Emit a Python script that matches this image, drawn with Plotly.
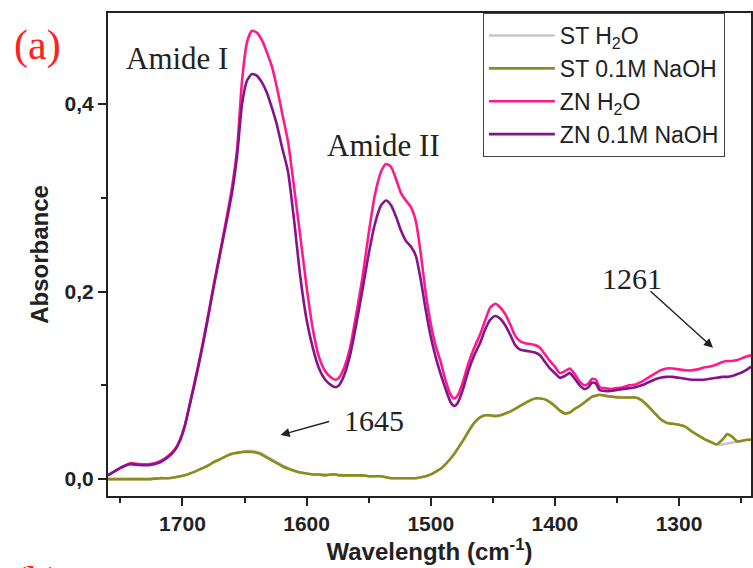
import plotly.graph_objects as go

# ---------------- data ----------------
wavenumber = [1760, 1750, 1742, 1735, 1726, 1718, 1712, 1706, 1702, 1698, 1694, 1690, 1685, 1680, 1675,
              1670, 1664, 1660, 1656, 1652, 1648, 1644, 1640, 1636, 1632, 1628, 1624, 1620, 1615, 1610,
              1605, 1600, 1595, 1590, 1585, 1580, 1577, 1574, 1570, 1565, 1560, 1555, 1550, 1545, 1540,
              1536, 1532, 1528, 1524, 1520, 1516, 1512, 1508, 1504, 1500, 1496, 1492, 1488, 1484, 1481,
              1478, 1474, 1470, 1465, 1460, 1456, 1452, 1448, 1444, 1440, 1436, 1432, 1428, 1424, 1420,
              1416, 1412, 1408, 1404, 1400, 1396, 1392, 1388, 1384, 1380, 1376, 1373, 1370, 1367, 1364,
              1360, 1355, 1350, 1345, 1340, 1335, 1330, 1325, 1320, 1315, 1310, 1305, 1300, 1295, 1290,
              1285, 1280, 1275, 1270, 1265, 1261, 1257, 1253, 1249, 1245, 1242]

st_h2o = [0.000, 0.000, 0.000, 0.000, 0.000, 0.001, 0.001, 0.002, 0.003, 0.004, 0.006, 0.008, 0.011, 0.014, 0.018,
          0.021, 0.025, 0.027, 0.028, 0.029, 0.030, 0.030, 0.029, 0.027, 0.024, 0.021, 0.018, 0.015, 0.012, 0.009,
          0.007, 0.006, 0.005, 0.005, 0.005, 0.005, 0.005, 0.005, 0.004, 0.004, 0.004, 0.004, 0.003, 0.003, 0.003,
          0.002, 0.001, 0.001, 0.001, 0.001, 0.001, 0.001, 0.002, 0.003, 0.005, 0.008, 0.011, 0.016, 0.022, 0.027,
          0.033, 0.041, 0.050, 0.060, 0.066, 0.068, 0.068, 0.068, 0.068, 0.070, 0.072, 0.075, 0.078, 0.081, 0.084,
          0.086, 0.086, 0.085, 0.082, 0.078, 0.073, 0.070, 0.071, 0.075, 0.078, 0.082, 0.085, 0.088, 0.089, 0.090,
          0.089, 0.088, 0.088, 0.087, 0.087, 0.087, 0.084, 0.078, 0.071, 0.064, 0.060, 0.059, 0.058, 0.056, 0.051,
          0.047, 0.043, 0.040, 0.037, 0.037, 0.038, 0.039, 0.040, 0.041, 0.042, 0.042]

st_naoh = [0.000, 0.000, 0.000, 0.000, 0.000, 0.001, 0.001, 0.002, 0.003, 0.004, 0.006, 0.008, 0.011, 0.014, 0.018,
           0.021, 0.025, 0.027, 0.028, 0.029, 0.029, 0.029, 0.028, 0.026, 0.023, 0.020, 0.017, 0.014, 0.011, 0.009,
           0.007, 0.006, 0.005, 0.005, 0.004, 0.005, 0.005, 0.004, 0.004, 0.004, 0.004, 0.004, 0.003, 0.003, 0.003,
           0.002, 0.001, 0.001, 0.001, 0.001, 0.001, 0.001, 0.002, 0.003, 0.005, 0.008, 0.011, 0.016, 0.022, 0.027,
           0.033, 0.041, 0.050, 0.060, 0.066, 0.068, 0.068, 0.067, 0.068, 0.070, 0.072, 0.075, 0.078, 0.081, 0.084,
           0.086, 0.086, 0.085, 0.082, 0.078, 0.073, 0.070, 0.071, 0.075, 0.078, 0.082, 0.085, 0.088, 0.089, 0.090,
           0.089, 0.088, 0.087, 0.087, 0.087, 0.087, 0.084, 0.078, 0.071, 0.064, 0.060, 0.059, 0.058, 0.056, 0.051,
           0.047, 0.043, 0.040, 0.037, 0.042, 0.048, 0.045, 0.040, 0.041, 0.042, 0.042]

zn_h2o = [0.004, 0.012, 0.017, 0.016, 0.016, 0.019, 0.024, 0.032, 0.042, 0.058, 0.081, 0.105, 0.136, 0.170, 0.206,
          0.240, 0.282, 0.312, 0.352, 0.425, 0.466, 0.478, 0.476, 0.468, 0.455, 0.440, 0.418, 0.392, 0.360, 0.310,
          0.258, 0.205, 0.160, 0.130, 0.115, 0.108, 0.106, 0.108, 0.118, 0.140, 0.176, 0.215, 0.262, 0.303, 0.328,
          0.336, 0.333, 0.320, 0.305, 0.297, 0.290, 0.275, 0.240, 0.198, 0.166, 0.142, 0.125, 0.105, 0.090, 0.086,
          0.090, 0.104, 0.122, 0.140, 0.155, 0.170, 0.183, 0.187, 0.183, 0.176, 0.165, 0.153, 0.147, 0.145, 0.144,
          0.143, 0.140, 0.133, 0.126, 0.120, 0.113, 0.115, 0.118, 0.112, 0.104, 0.100, 0.102, 0.107, 0.106, 0.098,
          0.097, 0.096, 0.097, 0.098, 0.100, 0.101, 0.104, 0.108, 0.112, 0.116, 0.118, 0.118, 0.117, 0.116, 0.116,
          0.117, 0.119, 0.120, 0.122, 0.125, 0.126, 0.126, 0.127, 0.129, 0.131, 0.132]

zn_naoh = [0.004, 0.012, 0.016, 0.015, 0.015, 0.018, 0.023, 0.031, 0.041, 0.057, 0.080, 0.103, 0.134, 0.168, 0.204,
           0.238, 0.278, 0.306, 0.345, 0.400, 0.425, 0.432, 0.430, 0.423, 0.412, 0.396, 0.378, 0.355, 0.328, 0.275,
           0.215, 0.170, 0.140, 0.118, 0.106, 0.100, 0.098, 0.100, 0.110, 0.132, 0.165, 0.202, 0.240, 0.272, 0.292,
           0.297, 0.292, 0.280, 0.265, 0.254, 0.248, 0.238, 0.212, 0.180, 0.152, 0.130, 0.112, 0.096, 0.082, 0.078,
           0.082, 0.096, 0.114, 0.132, 0.146, 0.160, 0.170, 0.174, 0.171, 0.164, 0.154, 0.143, 0.138, 0.137, 0.136,
           0.135, 0.132, 0.125, 0.118, 0.113, 0.108, 0.110, 0.113, 0.107, 0.100, 0.096, 0.098, 0.103, 0.102, 0.095,
           0.094, 0.094, 0.095, 0.096, 0.097, 0.098, 0.100, 0.103, 0.106, 0.108, 0.109, 0.109, 0.108, 0.107, 0.106,
           0.106, 0.106, 0.107, 0.108, 0.109, 0.109, 0.110, 0.112, 0.114, 0.117, 0.120]

series_names = ["ST H<sub>2</sub>O", "ST 0.1M NaOH", "ZN H<sub>2</sub>O", "ZN 0.1M NaOH"]
series_values = [st_h2o, st_naoh, zn_h2o, zn_naoh]
series_colors = ["#c6c6c6", "#8c8c1c", "#ff1a8c", "#84148c"]

x_tickvals = [1700, 1600, 1500, 1400, 1300]
x_ticktext = ["1700", "1600", "1500", "1400", "1300"]
y_tickvals = [0.0, 0.2, 0.4]
y_ticktext = ["0,0", "0,2", "0,4"]

# ---------------- figure ----------------
fig = go.Figure()
for name, vals, col in zip(series_names, series_values, series_colors):
    fig.add_trace(go.Scatter(
        x=wavenumber, y=vals, mode="lines", name=name,
        line=dict(color=col, width=2.6, shape="spline", smoothing=0.6),
    ))

sans = "Liberation Sans, Arial, sans-serif"
title_font = dict(family=sans, size=24, color="#222222")
tick_font = dict(family=sans, size=21, color="#222222", weight="bold")

fig.update_layout(
    width=753, height=568,
    margin=dict(l=108, r=2, t=13, b=72, autoexpand=False),
    paper_bgcolor="white", plot_bgcolor="white",
    showlegend=True,
    legend=dict(
        x=0.583, y=1.0, xanchor="left", yanchor="top",
        bgcolor="white", bordercolor="#444444", borderwidth=1,
        font=dict(family=sans, size=23, color="#222222"),
        itemwidth=66, tracegroupgap=0,
    ),
    xaxis=dict(
        range=[1760, 1242], showgrid=False, zeroline=False, automargin=False,
        showline=True, linecolor="#222222", linewidth=2, mirror=True,
        ticks="outside", ticklen=8, tickwidth=2, tickcolor="#222222",
        tickvals=x_tickvals, ticktext=x_ticktext, tickfont=tick_font,
        minor=dict(ticks="outside", ticklen=5, tickwidth=2, tickcolor="#222222", dtick=50, tick0=1250),
        title=dict(text="<b>Wavelength (cm<sup>-1</sup>)</b>", font=title_font, standoff=6),
    ),
    yaxis=dict(
        range=[-0.018, 0.497], showgrid=False, zeroline=False, automargin=False,
        showline=True, linecolor="#222222", linewidth=2, mirror=True,
        ticks="outside", ticklen=8, tickwidth=2, tickcolor="#222222",
        tickvals=y_tickvals, ticktext=y_ticktext, tickfont=tick_font,
        minor=dict(ticks="outside", ticklen=5, tickwidth=2, tickcolor="#222222", tickvals=[0.1, 0.3]),
        title=dict(text="<b>Absorbance</b>", font=title_font, standoff=9),
    ),
)

serif = "Liberation Serif, Times New Roman, serif"
anns = [
    dict(text="(a)", xref="paper", yref="paper", x=-0.110, y=0.932, xanchor="center", yanchor="middle",
         showarrow=False, font=dict(family=serif, size=42, color="#ff2020")),
    dict(text="Amide I", xref="x", yref="y", x=1747, y=0.449, xanchor="left", yanchor="middle",
         showarrow=False, font=dict(family=serif, size=31, color="#222222")),
    dict(text="Amide II", xref="x", yref="y", x=1538, y=0.356, xanchor="center", yanchor="middle",
         showarrow=False, font=dict(family=serif, size=31, color="#222222")),
    dict(text="1645", xref="x", yref="y", x=1546, y=0.063, xanchor="center", yanchor="middle",
         showarrow=False, font=dict(family=serif, size=30, color="#222222")),
    dict(text="1261", xref="x", yref="y", x=1338, y=0.214, xanchor="center", yanchor="middle",
         showarrow=False, font=dict(family=serif, size=30, color="#222222")),
    dict(text="", xref="x", yref="y", x=1621, y=0.047, ax=50, ay=-14,
         showarrow=True, arrowhead=2, arrowsize=1.3, arrowwidth=1.4, arrowcolor="#222222"),
    dict(text="", xref="x", yref="y", x=1272.6, y=0.140, ax=-64, ay=-58,
         showarrow=True, arrowhead=2, arrowsize=1.3, arrowwidth=1.4, arrowcolor="#222222"),
    dict(text="(b)", xref="paper", yref="paper", x=-0.110, y=-0.127, xanchor="center", yanchor="top",
         showarrow=False, font=dict(family=serif, size=42, color="#ff2020")),
]
fig.update_layout(annotations=anns)

fig.write_html("out.html", config={"displayModeBar": False},
               post_script="document.body.style.margin='0';")
